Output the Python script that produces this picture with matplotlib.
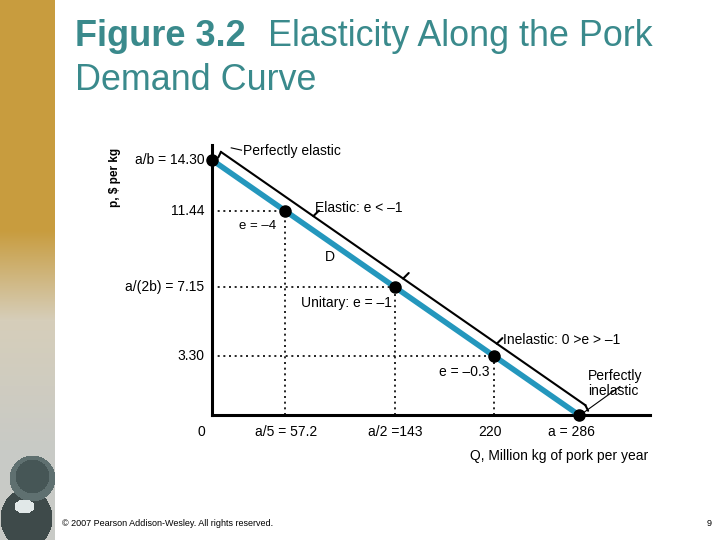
import numpy as np
import matplotlib
matplotlib.use('Agg')
import matplotlib.pyplot as plt

plt.rcParams['font.family'] = ['Liberation Sans', 'DejaVu Sans']

# demand curve values (pork market)
quantity = [0, 57.2, 143, 220, 286]
price = [14.30, 11.44, 7.15, 3.30, 0]
elasticity_labels = ['e = \u20134', 'Unitary: e = \u20131', 'e = \u20130.3']
y_tick_labels = ['a/b = 14.30', '11.44', 'a/(2b) = 7.15', '3.30']
x_tick_labels = ['0', 'a/5 = 57.2', 'a/2 =143', '220', 'a = 286']

blue = '#2497bd'
teal = '#3a8a8c'

fig = plt.figure(figsize=(7.2, 5.4), dpi=100)

# decorative strip on the left
strip = fig.add_axes([0, 0, 55 / 720, 1])
h, w = 540, 55
img = np.zeros((h, w, 3))
gold = np.array([200, 156, 62]) / 255
sand = np.array([214, 206, 186]) / 255
grey = np.array([200, 202, 198]) / 255
for r in range(h):
    if r < 230:
        c = gold
    elif r < 320:
        t = (r - 230) / 90
        c = gold * (1 - t) + sand * t
    else:
        t = min((r - 320) / 130, 1)
        c = sand * (1 - t) + grey * t
    img[r, :] = c
yy, xx = np.mgrid[0:h, 0:w]
shadow = ((xx - 26) ** 2 / 26 ** 2 + (yy - 518) ** 2 / 30 ** 2) < 1
img[shadow] = np.array([62, 74, 74]) / 255
ball = ((xx - 32) ** 2 + (yy - 478) ** 2) < 23 ** 2
img[ball] = np.array([95, 112, 112]) / 255
core = ((xx - 32) ** 2 + (yy - 476) ** 2) < 17 ** 2
img[core] = np.array([70, 86, 86]) / 255
glow = ((xx - 24) ** 2 / 10 ** 2 + (yy - 506) ** 2 / 7 ** 2) < 1
img[glow] = np.array([225, 232, 232]) / 255
strip.imshow(img, aspect='auto')
strip.axis('off')

# title
fig.text(75 / 720, 1 - 37 / 540, 'Figure 3.2', fontsize=26, fontweight='bold',
         color=teal, va='center')
fig.text(268 / 720, 1 - 37 / 540, 'Elasticity Along the Pork', fontsize=25.8,
         color=teal, va='center')
fig.text(75 / 720, 1 - 80 / 540, 'Demand Curve', fontsize=25.8, color=teal, va='center')

# main axes
ax = fig.add_axes([212 / 720, 125 / 540, 438 / 720, 270 / 540])
ax.set_xlim(0, 341.4)
ax.set_ylim(0, 15.14)
for s in ['top', 'right']:
    ax.spines[s].set_visible(False)
for s in ['left', 'bottom']:
    ax.spines[s].set_linewidth(2.2)
ax.set_xticks([])
ax.set_yticks([])

# dotted guides
for q, p in zip(quantity[1:4], price[1:4]):
    ax.plot([0, q], [p, p], color='black', lw=1.2, ls=(0, (1.2, 2.2)))
    ax.plot([q, q], [0, p], color='black', lw=1.2, ls=(0, (1.2, 2.2)))

# demand line and points
ax.plot([quantity[0], quantity[-1]], [price[0], price[-1]], color=blue, lw=4,
        solid_capstyle='butt', zorder=3)
ax.plot(quantity, price, 'o', color='black', ms=8, zorder=4, clip_on=False)

# bracket line parallel to demand
slope = (price[-1] - price[0]) / (quantity[-1] - quantity[0])
shift = 16


def bracket_p(q):
    return price[0] + slope * (q - shift)


bq = np.array([7, 291])
ax.plot(bq, bracket_p(bq), color='black', lw=1.5, zorder=2)
# small outward notches at region boundaries
for q in [79, 149, 222]:
    ax.annotate('', xy=(q, bracket_p(q)), xytext=(4, 4), textcoords='offset points',
                arrowprops=dict(arrowstyle='-', lw=1.5, color='black',
                                shrinkA=0, shrinkB=0))
# end hooks curling toward the curve
for q in [7, 291]:
    ax.annotate('', xy=(q, bracket_p(q)), xytext=(-2 if q < 100 else 2, -4),
                textcoords='offset points',
                arrowprops=dict(arrowstyle='-', lw=1.5, color='black',
                                shrinkA=0, shrinkB=0))

# y labels
ty = [14.30, 11.44, 7.15, 3.30]
for lab, p in zip(y_tick_labels, ty):
    ax.text(-6, p, lab, ha='right', va='center', fontsize=10)
fig.text(115 / 720, 1 - 177 / 540, 'p, $ per kg', rotation=90, fontsize=8.5,
         fontweight='bold', ha='center', va='center')

# x labels
x_pos = [-8, 58, 143, 217, 280]
for lab, q in zip(x_tick_labels, x_pos):
    ax.text(q, -0.95, lab, ha='center', va='center', fontsize=10)
ax.text(470 / 720, 1 - 456 / 540, 'Q, Million kg of pork per year', fontsize=10,
        va='center', transform=fig.transFigure)

# region labels
ax.text(24, 14.83, 'Perfectly elastic', fontsize=10, va='center')
ax.plot([15, 23], [14.98, 14.85], color='black', lw=0.8)
ax.text(80, 11.6, 'Elastic: e < \u20131', fontsize=10, va='center')
ax.text(50, 10.6, elasticity_labels[0], fontsize=9.5, va='center', ha='right')
ax.text(88, 8.85, 'D', fontsize=10, va='center')
ax.text(140, 6.28, elasticity_labels[1], fontsize=10, va='center', ha='right')
ax.text(227, 4.22, 'Inelastic: 0 >e > \u20131', fontsize=10, va='center')
ax.text(216, 2.42, elasticity_labels[2], fontsize=10, va='center', ha='right')
ax.text(293, 1.75, 'Perfectly\ninelastic', fontsize=10, va='center', linespacing=1.1)
ax.plot([289, 318], [0.1, 1.6], color='black', lw=0.8, clip_on=False)

# footer
fig.text(62 / 720, 1 - 523 / 540, '\u00a9 2007 Pearson Addison-Wesley. All rights reserved.',
         fontsize=6.5, va='center')
fig.text(712 / 720, 1 - 523 / 540, '9', fontsize=6.5, va='center', ha='right')

fig.savefig('out.png', dpi=100)
